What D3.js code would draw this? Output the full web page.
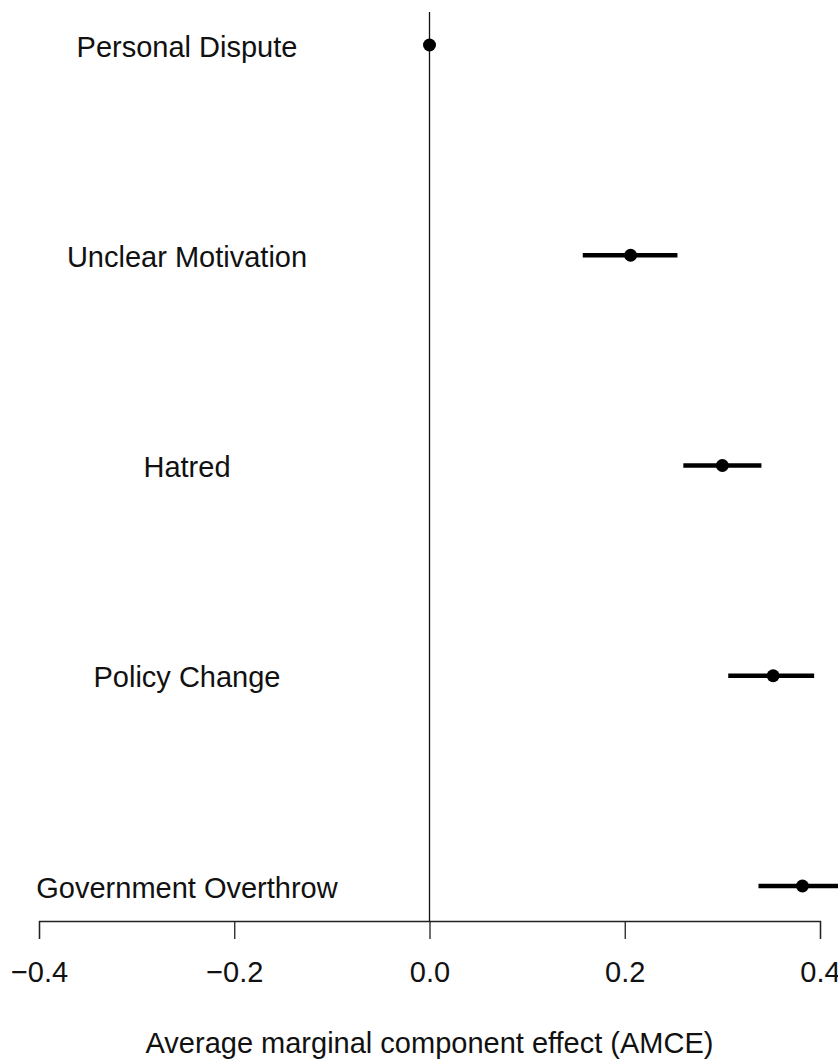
<!DOCTYPE html>
<html><head><meta charset="utf-8">
<script src="https://cdn.jsdelivr.net/npm/d3@7"></script>
<style>body{margin:0;background:#fff}svg{display:block}text{font-family:"Liberation Sans",Arial,sans-serif;fill:#111}</style>
</head><body><svg id="c" width="838" height="1063"></svg>
<script>
const categories = ["Personal Dispute","Unclear Motivation","Hatred","Policy Change","Government Overthrow"];
const estimates = [0, 0.206, 0.300, 0.352, 0.382];
const lower = [0, 0.157, 0.260, 0.306, 0.337];
const upper = [0, 0.254, 0.340, 0.394, 0.427];
const tickValues = [-0.4, -0.2, 0.0, 0.2, 0.4];
const xTitle = "Average marginal component effect (AMCE)";

const svg = d3.select("#c");
const x = d3.scaleLinear().domain([-0.4, 0.4]).range([39, 820]);
const y = d3.scalePoint().domain(categories).range([45, 886]);
const axisY = 921;

// zero reference line
svg.append("line").attr("x1", x(0)).attr("x2", x(0)).attr("y1", 12).attr("y2", axisY)
  .attr("stroke", "#111").attr("stroke-width", 1.3);

const ax = svg.append("g").attr("transform", `translate(0,${axisY})`)
  .call(d3.axisBottom(x).tickValues(tickValues).tickSize(18).tickPadding(22)
    .tickFormat(d => d3.format(".1f")(d).replace("-", "\u2212")));
ax.select(".domain").attr("stroke", "#222").attr("stroke-width", 1.3);
ax.selectAll(".tick line").attr("stroke", "#222").attr("stroke-width", 1.3);
ax.selectAll(".tick text").attr("font-size", 29).attr("fill", "#111")
  .attr("font-family", "Liberation Sans, Arial, sans-serif");

svg.append("text").attr("x", (x(-0.4) + x(0.4)) / 2).attr("y", 1053)
  .attr("text-anchor", "middle").attr("font-size", 29).text(xTitle);

const data = categories.map((c, i) => ({c, est: estimates[i], lo: lower[i], hi: upper[i]}));

svg.selectAll("text.lab").data(data).join("text").attr("class", "lab")
  .attr("x", 187).attr("y", d => y(d.c)).attr("dy", "0.4em")
  .attr("text-anchor", "middle").attr("font-size", 29).text(d => d.c);

svg.selectAll("line.ci").data(data).join("line").attr("class", "ci")
  .attr("x1", d => x(d.lo)).attr("x2", d => x(d.hi))
  .attr("y1", d => y(d.c)).attr("y2", d => y(d.c))
  .attr("stroke", "#000").attr("stroke-width", 4.5);

svg.selectAll("circle.pt").data(data).join("circle").attr("class", "pt")
  .attr("cx", d => x(d.est)).attr("cy", d => y(d.c)).attr("r", 6.5).attr("fill", "#000");
</script></body></html>
